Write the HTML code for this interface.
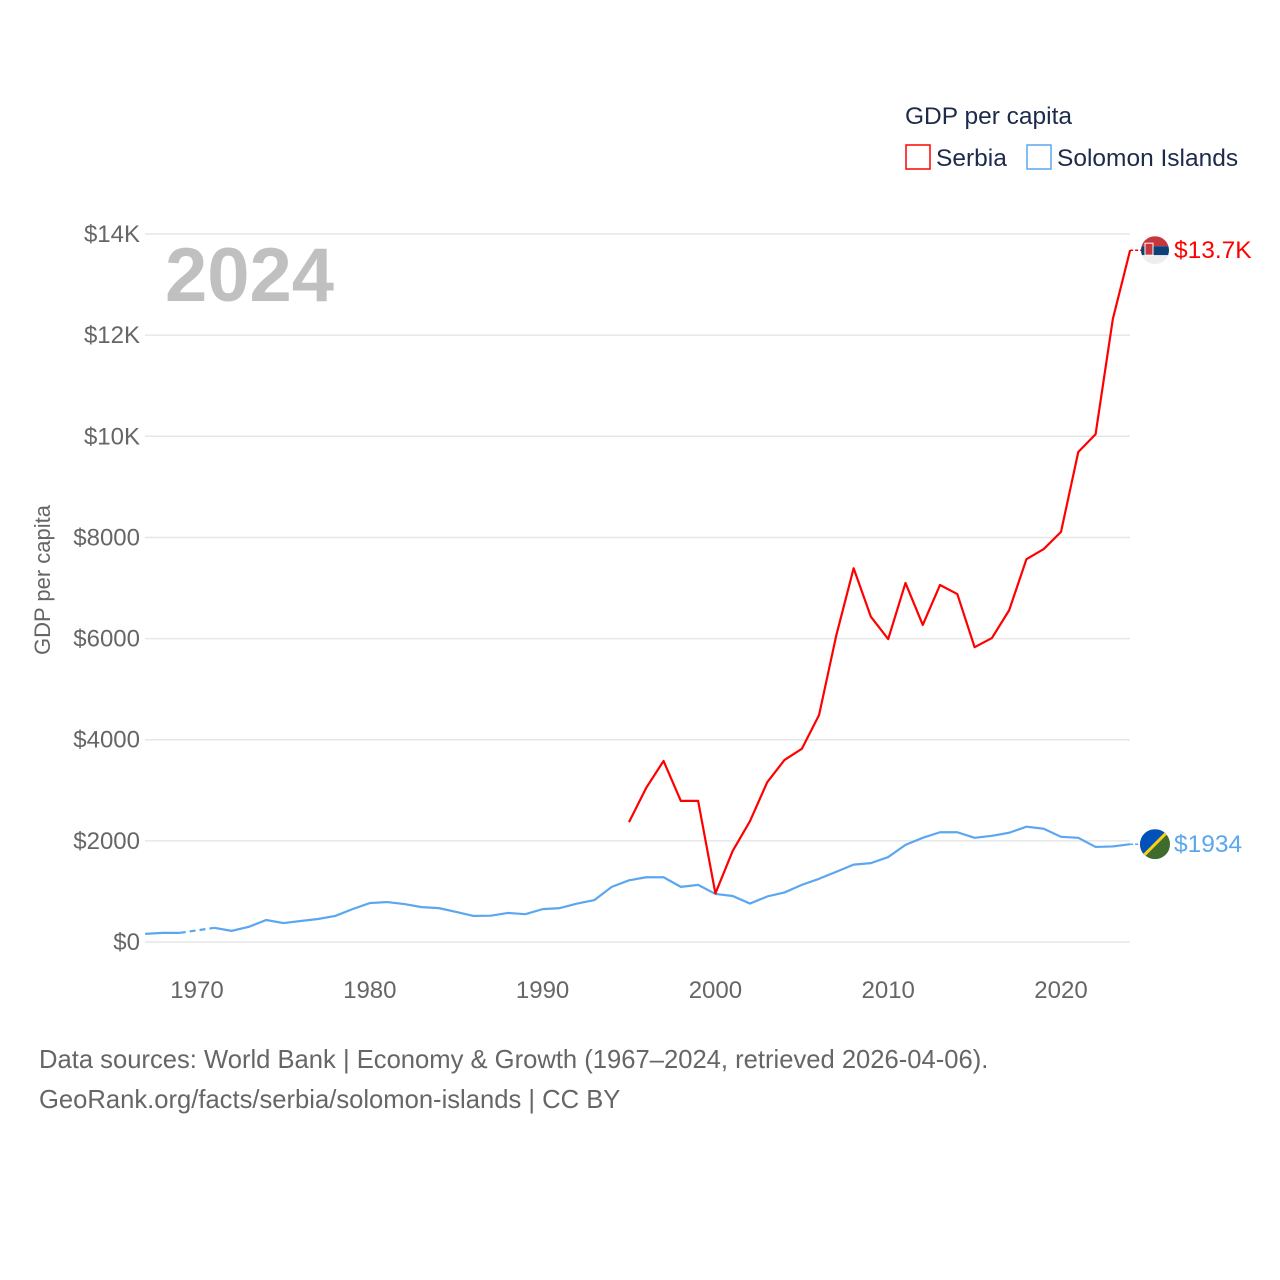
<!DOCTYPE html>
<html><head><meta charset="utf-8"><style>
body{margin:0;background:#fff;}
svg{display:block;font-family:"Liberation Sans",sans-serif;}
</style></head><body>
<svg id="chart" width="1280" height="1280" viewBox="0 0 1280 1280">
<text x="905" y="124" font-size="24.5" fill="#1d2b4a">GDP per capita</text>
<g><rect x="906" y="145" width="24" height="24" fill="none" stroke="#f00" stroke-width="1.5"/><text x="936" y="166" font-size="24.5" fill="#1d2b4a">Serbia</text></g>
<g><rect x="1027" y="145" width="24" height="24" fill="none" stroke="#5ba7ef" stroke-width="1.5"/><text x="1057" y="166" font-size="24.5" fill="#1d2b4a">Solomon Islands</text></g>
<g id="grid"></g>
<text x="165" y="301" font-size="76" font-weight="bold" fill="#c0c0c0">2024</text>
<text transform="translate(50,580) rotate(-90)" text-anchor="middle" font-size="22" fill="#666">GDP per capita</text>
<g id="marks"></g>
<text x="39" y="1068" font-size="25.6" fill="#666">Data sources: World Bank | Economy &amp; Growth (1967–2024, retrieved 2026-04-06).</text>
<text x="39" y="1108" font-size="25.6" fill="#666">GeoRank.org/facts/serbia/solomon-islands | CC BY</text>
</svg>
<script>
const yTicks=[0,2000,4000,6000,8000,10000,12000,14000];
const yTickLabels=["$0","$2000","$4000","$6000","$8000","$10K","$12K","$14K"];
const xTicks=[1970,1980,1990,2000,2010,2020];
const solYears=[1967,1968,1969,1970,1971,1972,1973,1974,1975,1976,1977,1978,1979,1980,1981,1982,1983,1984,1985,1986,1987,1988,1989,1990,1991,1992,1993,1994,1995,1996,1997,1998,1999,2000,2001,2002,2003,2004,2005,2006,2007,2008,2009,2010,2011,2012,2013,2014,2015,2016,2017,2018,2019,2020,2021,2022,2023,2024];
const solValues=[160,180,180,null,280,220,300,435,375,415,455,515,650,770,790,750,690,670,595,515,520,575,550,650,670,760,830,1090,1220,1280,1280,1090,1130,950,910,760,900,980,1130,1250,1390,1530,1560,1680,1920,2060,2170,2170,2060,2100,2160,2280,2240,2080,2060,1880,1890,1934];
const srbYears=[1995,1996,1997,1998,1999,2000,2001,2002,2003,2004,2005,2006,2007,2008,2009,2010,2011,2012,2013,2014,2015,2016,2017,2018,2019,2020,2021,2022,2023,2024];
const srbValues=[2370,3050,3580,2790,2790,960,1800,2390,3160,3600,3820,4490,6070,7390,6430,5990,7100,6270,7060,6880,5830,6010,6560,7570,7770,8110,9690,10040,12320,13680];
const NS="http://www.w3.org/2000/svg";
const x=yr=>197+(yr-1970)*17.28;
const y=v=>942-v*0.05057;
function mk(tag,attrs,parent){const e=document.createElementNS(NS,tag);for(const k in attrs)e.setAttribute(k,attrs[k]);parent.appendChild(e);return e;}
const grid=document.getElementById('grid'),marks=document.getElementById('marks');
yTicks.forEach((t,i)=>{
 const l=mk('line',{x1:145,x2:1130,y1:y(t),y2:y(t),stroke:'#e6e6e6','stroke-width':1.5},grid);
 
 
 const tx=mk('text',{x:140,y:y(t)+8,'text-anchor':'end','font-size':24,fill:'#666'},grid);
 tx.textContent=yTickLabels[i];
 
 
});
xTicks.forEach(t=>{
 const tx=mk('text',{x:x(t),y:998,'text-anchor':'middle','font-size':24,fill:'#666'},grid);
 tx.textContent=t;
 
 
});
function drawSeries(years,vals,color,name){
 let segs=[],cur=[];
 years.forEach((yr,i)=>{if(vals[i]==null){if(cur.length)segs.push(cur);cur=[];}else cur.push([x(yr),y(vals[i])]);});
 if(cur.length)segs.push(cur);
 segs.forEach((s,i)=>{
  const p=mk('polyline',{points:s.map(q=>q.join(',')).join(' '),fill:'none',stroke:color,'stroke-width':2.2,'stroke-linejoin':'round'},marks);
  
  
  if(i>0){const a=segs[i-1][segs[i-1].length-1],b=s[0];
   const d=mk('line',{x1:a[0],y1:a[1],x2:b[0],y2:b[1],stroke:color,'stroke-width':2.2,'stroke-dasharray':'6 4'},marks);
   
   }
 });
 const last=segs[segs.length-1][segs[segs.length-1].length-1];
 const d=mk('line',{x1:last[0],y1:last[1],x2:last[0]+12,y2:last[1],stroke:color,'stroke-width':1.5,'stroke-dasharray':'3 2'},marks);
 
 
 return last;
}
const sl=drawSeries(solYears,solValues,'#5ba7ef','solomon-islands');
const rl=drawSeries(srbYears,srbValues,'#ff0000','serbia');
const fs=mk('g',{},marks);


const cp1=mk('clipPath',{id:'c1'},fs);mk('circle',{cx:1155,cy:rl[1],r:14},cp1);
const g1=mk('g',{'clip-path':'url(#c1)'},fs);
mk('rect',{x:1141,y:rl[1]-14,width:28,height:10,fill:'#c6363c'},g1);
mk('rect',{x:1141,y:rl[1]-4,width:28,height:9,fill:'#0c4076'},g1);
mk('rect',{x:1141,y:rl[1]+5,width:28,height:10,fill:'#eee'},g1);
mk('rect',{x:1145,y:rl[1]-7,width:8,height:12,fill:'#c6363c',stroke:'#fff','stroke-width':1},g1);
const t1=mk('text',{x:1174,y:rl[1]+8,'font-size':24.5,fill:'#ff0000'},marks);
t1.textContent='$13.7K';


const fg=mk('g',{},marks);


const cp=mk('clipPath',{id:'c2'},fg);mk('circle',{cx:1155,cy:sl[1],r:15},cp);
const g2=mk('g',{'clip-path':'url(#c2)'},fg);
mk('rect',{x:1140,y:sl[1]-15,width:30,height:30,fill:'#3f6b2f'},g2);
mk('polygon',{points:`1140,${sl[1]-15} 1170,${sl[1]-15} 1140,${sl[1]+15}`,fill:'#0051ba'},g2);
mk('line',{x1:1170,y1:sl[1]-15,x2:1140,y2:sl[1]+15,stroke:'#fcd116','stroke-width':3},g2);
const t2=mk('text',{x:1174,y:sl[1]+8,'font-size':24.5,fill:'#5ba7ef'},marks);
t2.textContent='$1934';


</script>
</body></html>
